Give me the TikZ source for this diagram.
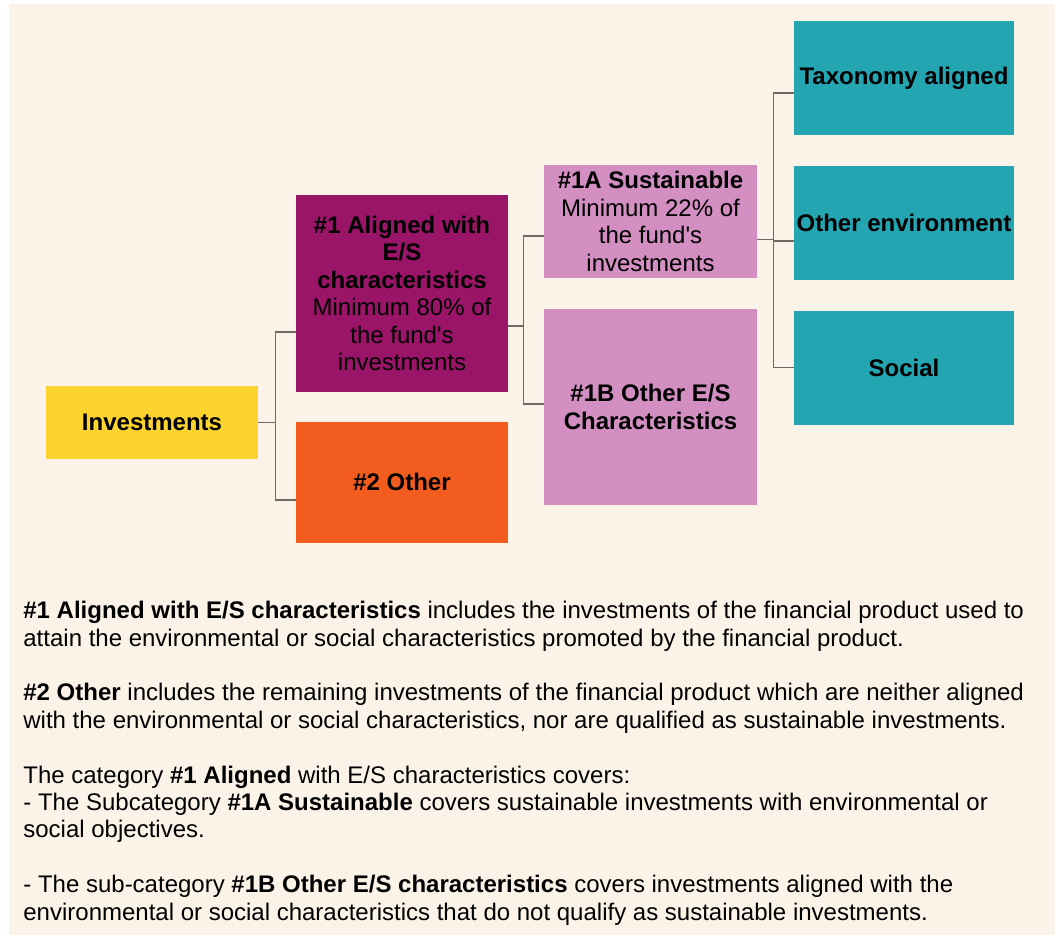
\documentclass[tikz,border=0pt]{standalone}
\usepackage{fontspec}
\setmainfont{Liberation Sans}
\usepackage{tikz}
\usetikzlibrary{positioning}

\definecolor{cream}{HTML}{FCF3E8}
\definecolor{invyellow}{HTML}{FDD32F}
\definecolor{alpurple}{HTML}{9A1467}
\definecolor{othorange}{HTML}{F25C1E}
\definecolor{subpink}{HTML}{D38FC2}
\definecolor{envteal}{HTML}{23A5B2}
\definecolor{linkgray}{HTML}{6E6A66}

\begin{document}
\begin{tikzpicture}[
x=0.5pt, y=-0.5pt,
font=\fontsize{12}{13.7}\selectfont,
box/.style={rectangle, inner sep=0pt, align=center, text=black},
link/.style={draw=linkgray, line width=0.75pt}
]
%Frame
\useasboundingbox[fill=white] (0,0) rectangle (1055,935);
\fill[cream] (9,4) rectangle (1055,935);
%Nodes
\node[box, fill=invyellow, minimum width=106pt, minimum height=36.5pt]   (inv) at (152,422.5) {\textbf{Investments}};
\node[box, fill=alpurple, minimum width=106pt, minimum height=98.5pt]    (al)  at (402,293.5)
  {\textbf{\#1 Aligned with}\\ \textbf{E/S}\\ \textbf{characteristics}\\ Minimum 80\% of\\ the fund\textquotesingle s\\ investments};
\node[box, fill=othorange, minimum width=106pt, minimum height=60.5pt]   (oth) [below=14.5pt of al] {\textbf{\#2 Other}};
\node[box, fill=subpink, minimum width=106.5pt, minimum height=56.5pt]   (sus) at (650.5,221.5)
  {\textbf{\#1A Sustainable}\\ Minimum 22\% of\\ the fund\textquotesingle s\\ investments};
\node[box, fill=subpink, minimum width=106.5pt, minimum height=98pt]     (oes) [below=15pt of sus]
  {\textbf{\#1B Other E/S}\\ \textbf{Characteristics}};
\node[box, fill=envteal, minimum width=110pt, minimum height=57pt]       (tax) at (904,78) {\textbf{Taxonomy aligned}};
\node[box, fill=envteal, minimum width=110pt, minimum height=57pt]       (env) [below=15pt of tax] {\textbf{Other environment}};
\node[box, fill=envteal, minimum width=110pt, minimum height=57pt]       (soc) [below=15pt of env] {\textbf{Social}};
%Lines
\draw[link] (inv.east) -- ++(8.5pt,0) |- ([yshift=-19.25pt]al.west);
\draw[link] (inv.east) -- ++(8.5pt,0) |- ([yshift=-8.75pt]oth.west);
\draw[link] ([yshift=-16.25pt]al.east) -- ++(7.5pt,0) |- ([yshift=-7.25pt]sus.west);
\draw[link] ([yshift=-16.25pt]al.east) -- ++(7.5pt,0) |- ([yshift=1.5pt]oes.west);
\draw[link] ([yshift=-9pt]sus.east) -- ++(8pt,0) |- ([yshift=-7.5pt]tax.west);
\draw[link] ([yshift=-9pt]sus.east) -- ++(8pt,0) |- ([yshift=-9pt]env.west);
\draw[link] ([yshift=-9pt]sus.east) -- ++(8pt,0) |- (soc.west);
%Notes
\node[inner sep=0pt, anchor=base west, align=left] (notes) at (23,920)
  {\textbf{\#1 Aligned with E/S characteristics} includes the investments of the financial product used to\\
   attain the environmental or social characteristics promoted by the financial product.\\[13.7pt]
   \textbf{\#2 Other} includes the remaining investments of the financial product which are neither aligned\\
   with the environmental or social characteristics, nor are qualified as sustainable investments.\\[13.7pt]
   The category \textbf{\#1 Aligned} with E/S characteristics covers:\\
   - The Subcategory \textbf{\#1A Sustainable} covers sustainable investments with environmental or\\
   social objectives.\\[13.7pt]
   - The sub-category \textbf{\#1B Other E/S characteristics} covers investments aligned with the\\
   environmental or social characteristics that do not qualify as sustainable investments.};
\end{tikzpicture}
\end{document}
